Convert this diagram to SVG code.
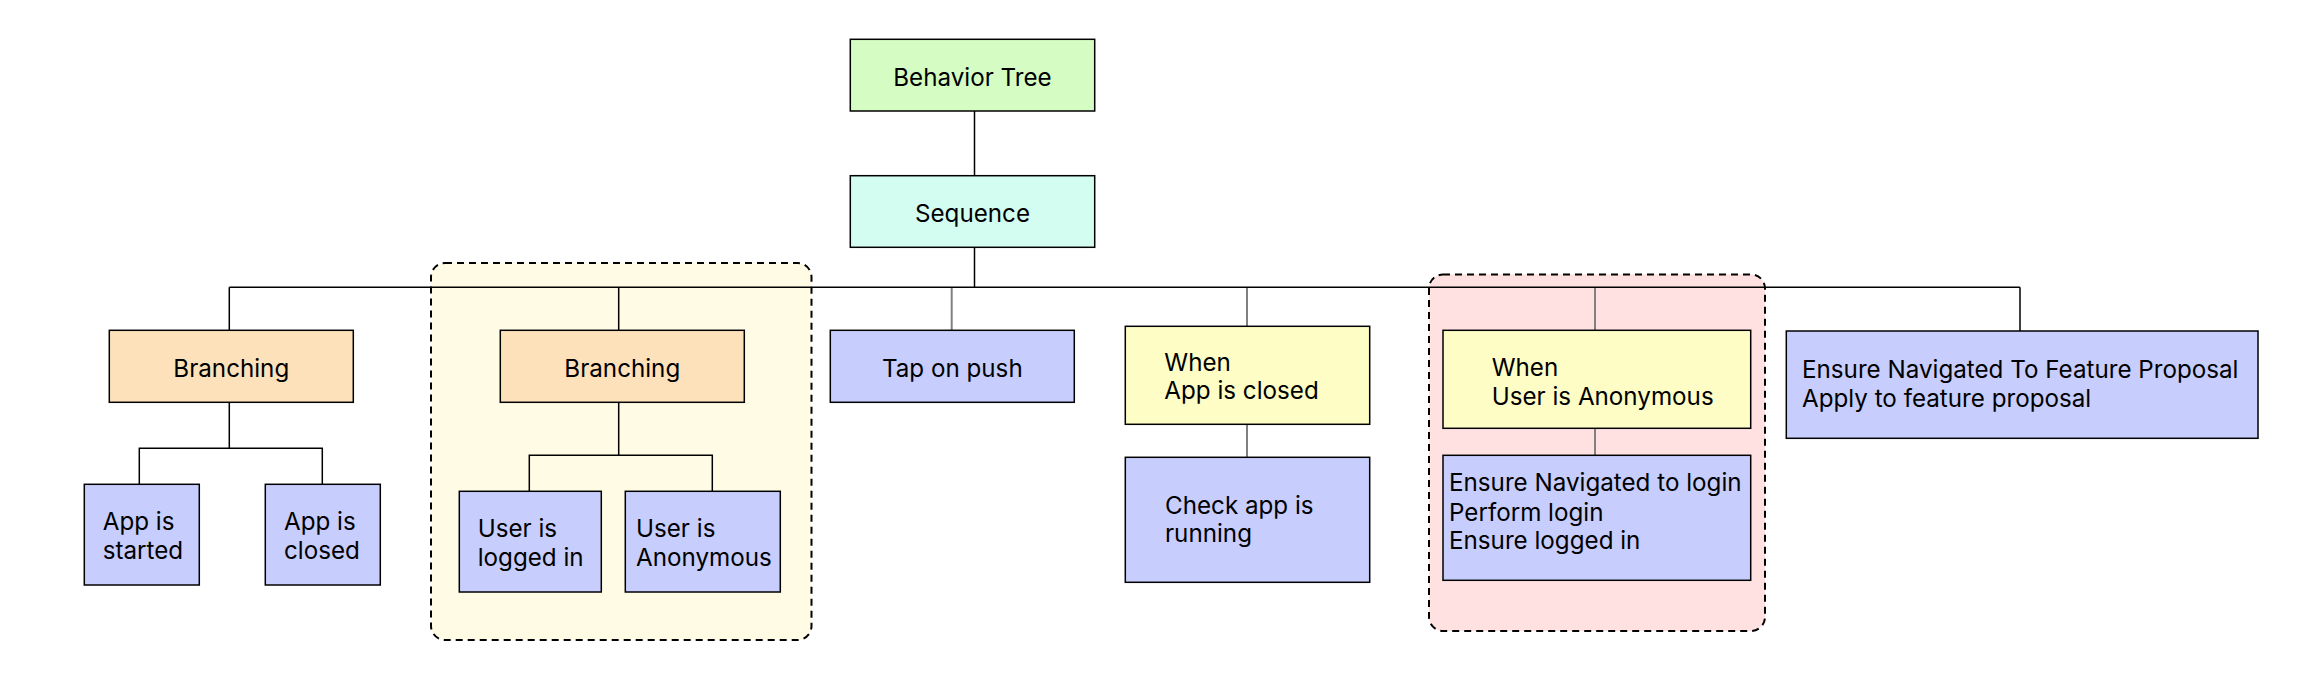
<svg xmlns="http://www.w3.org/2000/svg" width="2297" height="681" viewBox="0 0 2297 681">
<style>
.n{stroke:#000;stroke-width:1.5}
.g{stroke:#000;stroke-width:2;stroke-dasharray:7 5}
.t{font-family:Inter,"Noto Sans","Liberation Sans",sans-serif;font-size:24.2px;fill:#000}
.c{text-anchor:middle}
.k{fill:none;stroke:#000;stroke-width:1.5}
.gr{fill:none;stroke:#808080;stroke-width:2}
.green{fill:#d5fdc3}.cyan{fill:#d3fdf1}.orange{fill:#fde1ba}.blue{fill:#c7cdfd}.yellow{fill:#fdfdc5}
</style>
<rect width="2297" height="681" fill="#fff"/>
<g id="group-yellow"><rect class="g" x="431" y="263" width="380.5" height="377" rx="14" fill="#fffbe5"/></g>
<g id="group-pink"><rect class="g" x="1429" y="274.5" width="336" height="356.5" rx="14" fill="#ffe1e1"/></g>
<g id="connectors">
<path class="k" d="M974.5 111V287.3M229.3 287.3H2020M229.3 287.3V330.3M618.7 287.3V330.3M2020 287.3V331M229.3 402.3V448.3M139.3 484.3V448.3H322.3V484.3M618.7 402.3V455.3M529.3 491.3V455.3H712.3V491.3"/>
<path class="gr" d="M951.7 288V330.3M1247 288V326.3M1595 288V330.3M1247 424.3V457.3M1595 428.3V455.3"/>
</g>
<g id="behavior-tree"><rect class="n green" x="850.3" y="39.3" width="244.4" height="71.7"/><text class="t c" x="972.5" y="85.5">Behavior Tree</text></g>
<g id="sequence"><rect class="n cyan" x="850.3" y="175.7" width="244.4" height="71.6"/><text class="t c" x="972.5" y="221.5">Sequence</text></g>
<g id="branching-1"><rect class="n orange" x="109.3" y="330.3" width="244" height="72"/><text class="t c" x="231.3" y="376.5">Branching</text></g>
<g id="app-started"><rect class="n blue" x="84.3" y="484.3" width="115" height="100.7"/><text class="t" x="102.7" y="530">App is</text><text class="t" x="102.7" y="558.7">started</text></g>
<g id="app-closed"><rect class="n blue" x="265.3" y="484.3" width="115" height="100.7"/><text class="t" x="284" y="530">App is</text><text class="t" x="284" y="558.7">closed</text></g>
<g id="branching-2"><rect class="n orange" x="500.3" y="330.3" width="244" height="72"/><text class="t c" x="622.3" y="376.5">Branching</text></g>
<g id="user-logged-in"><rect class="n blue" x="459.3" y="491.3" width="142" height="100.7"/><text class="t" x="477.7" y="537">User is</text><text class="t" x="477.7" y="565.7">logged in</text></g>
<g id="user-anonymous"><rect class="n blue" x="625.3" y="491.3" width="155" height="100.7"/><text class="t" x="636" y="537">User is</text><text class="t" x="636" y="565.7">Anonymous</text></g>
<g id="tap-on-push"><rect class="n blue" x="830.3" y="330.3" width="244" height="72"/><text class="t c" x="952.3" y="376.5">Tap on push</text></g>
<g id="when-app-closed"><rect class="n yellow" x="1125.3" y="326.3" width="244.4" height="98"/><text class="t" x="1164.3" y="370.7">When</text><text class="t" x="1164.3" y="399.4">App is closed</text></g>
<g id="check-app-running"><rect class="n blue" x="1125.3" y="457.3" width="244.4" height="125"/><text class="t" x="1165" y="513.7">Check app is</text><text class="t" x="1165" y="542.4">running</text></g>
<g id="when-user-anonymous"><rect class="n yellow" x="1443" y="330.3" width="307.7" height="98"/><text class="t" x="1491.7" y="376.4">When</text><text class="t" x="1491.7" y="404.7">User is Anonymous</text></g>
<g id="ensure-login"><rect class="n blue" x="1443" y="455.3" width="307.7" height="125"/><text class="t" x="1449" y="491.4">Ensure Navigated to login</text><text class="t" x="1449" y="520.7">Perform login</text><text class="t" x="1449" y="548.7">Ensure logged in</text></g>
<g id="feature-proposal"><rect class="n blue" x="1786.3" y="331" width="471.7" height="107.3"/><text class="t" x="1802" y="378.4">Ensure Navigated To Feature Proposal</text><text class="t" x="1802" y="407.4">Apply to feature proposal</text></g>
</svg>
